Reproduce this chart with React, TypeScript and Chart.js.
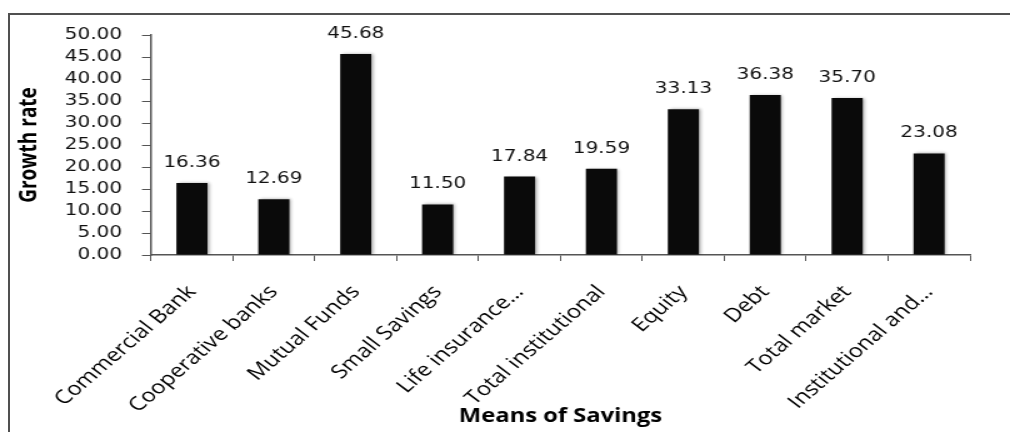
import React, { useEffect, useRef } from "react";
import { Chart, registerables } from "chart.js";

Chart.register(...registerables);

const categories = [
  "Commercial Bank",
  "Cooperative banks",
  "Mutual Funds",
  "Small Savings",
  "Life insurance…",
  "Total institutional",
  "Equity",
  "Debt",
  "Total market",
  "Institutional and…",
];
const growthRates = [16.36, 12.69, 45.68, 11.5, 17.84, 19.59, 33.13, 36.38, 35.7, 23.08];
const yMin = 0;
const yMax = 50;
const yStep = 5;
const yTitle = "Growth rate";
const xTitle = "Means of Savings";

// the reference image is horizontally stretched; draw on a narrower canvas and stretch it
const STRETCH = 1.25;
const OUT_W = 1010;
const OUT_H = 432;
const CANVAS_W = Math.round(OUT_W / STRETCH);

const shadowPlugin = {
  id: "barShadow",
  beforeDatasetsDraw(chart: any) {
    const ctx = chart.ctx;
    ctx.save();
    ctx.shadowColor = "rgba(0,0,0,0.35)";
    ctx.shadowBlur = 3;
    ctx.shadowOffsetX = 1.5;
    ctx.shadowOffsetY = 0;
  },
  afterDatasetsDraw(chart: any) {
    chart.ctx.restore();
  },
};

const valueLabelPlugin = {
  id: "valueLabels",
  afterDatasetsDraw(chart: any) {
    const ctx = chart.ctx;
    const meta = chart.getDatasetMeta(0);
    const data = chart.data.datasets[0].data as number[];
    ctx.save();
    ctx.font = "16px 'DejaVu Sans'";
    ctx.fillStyle = "#111";
    ctx.textAlign = "center";
    ctx.textBaseline = "alphabetic";
    meta.data.forEach((bar: any, i: number) => {
      ctx.fillText(Number(data[i]).toFixed(2), bar.x, bar.y - 16);
    });
    ctx.restore();
  },
};

export default function App() {
  const canvasRef = useRef<HTMLCanvasElement | null>(null);

  useEffect(() => {
    document.body.style.margin = "0";
    const canvas = canvasRef.current;
    if (!canvas) return;
    const chart = new Chart(canvas, {
      type: "bar",
      data: {
        labels: categories,
        datasets: [
          {
            data: growthRates,
            backgroundColor: "#0a0a0a",
            borderWidth: 0,
            barPercentage: 0.38,
            categoryPercentage: 1,
          },
        ],
      },
      options: {
        animation: false,
        responsive: false,
        maintainAspectRatio: false,
        devicePixelRatio: 1,
        layout: { padding: { left: 12.6, right: 32, top: 35, bottom: 4 } },
        plugins: {
          legend: { display: false },
          tooltip: { enabled: false },
        },
        scales: {
          x: {
            grid: {
              drawOnChartArea: false,
              drawTicks: true,
              tickLength: 6,
              color: "#555",
              offset: true,
            },
            border: { color: "#555", width: 1.5 },
            ticks: {
              autoSkip: false,
              minRotation: 47,
              maxRotation: 47,
              padding: 20,
              color: "#000",
              font: { family: "'Open Sans'", size: 19 },
            },
            title: {
              display: true,
              text: xTitle,
              color: "#000",
              font: { family: "'Open Sans'", size: 19, weight: "bold" },
              padding: { top: 0, bottom: 0 },
            },
            afterFit(scale: any) {
              scale.height = 173;
            },
          },
          y: {
            min: yMin,
            max: yMax,
            grid: {
              drawOnChartArea: false,
              drawTicks: true,
              tickLength: 7.2,
              color: "#555",
            },
            border: { color: "#555", width: 1.5 },
            ticks: {
              stepSize: yStep,
              autoSkip: false,
              padding: 16,
              color: "#111",
              font: { family: "'DejaVu Sans'", size: 16 },
              callback: (v: any) => Number(v).toFixed(2),
            },
            title: {
              display: true,
              text: yTitle,
              color: "#000",
              font: { family: "'Open Sans'", size: 19, weight: "bold" },
              padding: { top: 0, bottom: 0 },
            },
            afterFit(scale: any) {
              scale.width = 108.2;
            },
          },
        },
      },
      plugins: [shadowPlugin, valueLabelPlugin],
    });
    return () => chart.destroy();
  }, []);

  return (
    <div style={{ position: "relative", width: OUT_W, height: OUT_H, overflow: "hidden", background: "#fff" }}>
      <div
        style={{
          position: "absolute",
          left: 8,
          top: 13,
          width: OUT_W,
          height: OUT_H,
          borderLeft: "2px solid #505050",
          borderTop: "2px solid #505050",
          boxSizing: "border-box",
        }}
      />
      <canvas
        ref={canvasRef}
        width={CANVAS_W}
        height={OUT_H}
        style={{ position: "absolute", left: 0, top: 0, width: OUT_W, height: OUT_H }}
      />
    </div>
  );
}
